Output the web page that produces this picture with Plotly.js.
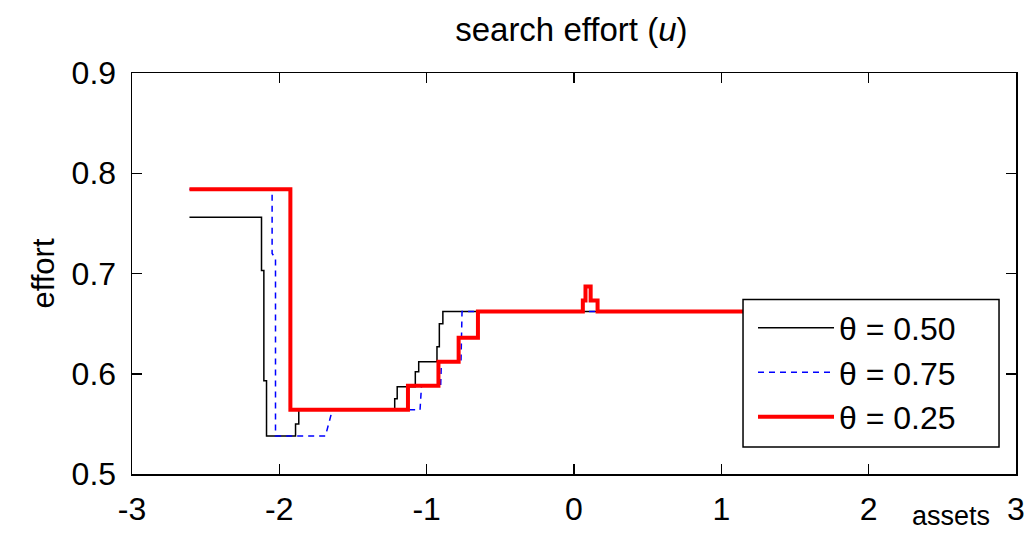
<!DOCTYPE html>
<html>
<head>
<meta charset="utf-8">
<script src="https://cdn.plot.ly/plotly-3.0.1.min.js"></script>
<style>html,body{margin:0;padding:0;background:#fff;}#chart{width:1028px;height:534px;}</style>
</head>
<body>
<div id="chart"></div>
<script>
// theta = 0.50 (black, step line)
const assets050 = [-2.61, -2.121, -2.105, -2.087, -1.89, -1.868, -1.217, -1.2, -1.077, -1.054, -0.93, -0.914, -0.89, 2.6];
const effort050 = [0.756, 0.703, 0.593, 0.538, 0.550, 0.564, 0.575, 0.587, 0.602, 0.612, 0.627, 0.650, 0.662, 0.662];

// theta = 0.75 (blue dashed)
const assets075 = [-2.61, -2.049, -2.049, -2.026, -2.026, -1.687, -1.64, -1.045, -1.035, -0.905, -0.9, -0.767, -0.76, 2.6];
const effort075 = [0.784, 0.784, 0.72, 0.715, 0.538, 0.538, 0.564, 0.564, 0.588, 0.588, 0.612, 0.612, 0.662, 0.662];

// theta = 0.25 (red, step line)
const assets025 = [-2.61, -1.925, -1.127, -0.92, -0.783, -0.652, 0.06, 0.078, 0.113, 0.16, 2.6];
const effort025 = [0.784, 0.564, 0.588, 0.612, 0.636, 0.662, 0.673, 0.687, 0.673, 0.662, 0.662];

const seriesNames = ['\u03b8 = 0.50', '\u03b8 = 0.75', '\u03b8 = 0.25'];
const xTicks = [-3, -2, -1, 0, 1, 2, 3];
const yTicks = [0.5, 0.6, 0.7, 0.8, 0.9];

const FONT = '"Liberation Sans", Arial, sans-serif';

const traces = [
  {x: assets050, y: effort050, name: seriesNames[0], mode: 'lines',
   line: {color: '#000000', width: 1.5, shape: 'hv'}},
  {x: assets075, y: effort075, name: seriesNames[1], mode: 'lines',
   line: {color: '#0000ff', width: 1.5, dash: '6px,5px', shape: 'linear'}},
  {x: assets025, y: effort025, name: seriesNames[2], mode: 'lines',
   line: {color: '#ff0000', width: 4, shape: 'hv'}}
];

const axisCommon = {
  showgrid: false, zeroline: false, showline: true, linecolor: '#000', linewidth: 1.5,
  mirror: 'ticks', ticks: 'inside', ticklen: 10, tickwidth: 1.5, tickcolor: '#000',
  tickfont: {family: FONT, size: 32, color: '#000'}
};

const layout = {
  width: 1028, height: 534,
  paper_bgcolor: '#fff', plot_bgcolor: '#fff',
  margin: {l: 132, r: 12, t: 73, b: 60, pad: 0},
  title: {text: 'search effort (<i>u</i>)', x: 0.497, xref: 'paper', y: 0.945, yref: 'container', yanchor: 'middle',
          font: {family: FONT, size: 33, color: '#000'}},
  xaxis: Object.assign({}, axisCommon, {range: [-3, 3], tickvals: xTicks, ticktext: xTicks.map(String), ticklabelstandoff: 6}),
  yaxis: Object.assign({}, axisCommon, {range: [0.5, 0.9], tickvals: yTicks, ticktext: yTicks.map(v => v.toFixed(1)), ticklabelstandoff: 8,
          title: {text: 'effort', standoff: 8, font: {family: FONT, size: 31, color: '#000'}}}),
  showlegend: true,
  legend: {x: 0.7025, y: 0.433, xanchor: 'left', yanchor: 'top', bgcolor: 'rgba(0,0,0,0)', borderwidth: 0,
           font: {family: FONT, size: 32, color: '#000'}, itemwidth: 76, traceorder: 'normal'},
  shapes: [
    {type: 'rect', xref: 'paper', yref: 'paper', x0: 0.6912, x1: 0.9808, y0: 0.0672, y1: 0.4353,
     fillcolor: '#fff', line: {color: '#000', width: 1.5}, layer: 'above'}
  ],
  annotations: [
    {text: 'assets', xref: 'paper', yref: 'paper', x: 0.926, y: -0.105, xanchor: 'center', yanchor: 'middle', showarrow: false,
     font: {family: FONT, size: 27, color: '#000'}}
  ]
};

Plotly.newPlot('chart', traces, layout, {displayModeBar: false, staticPlot: true});
</script>
</body>
</html>
